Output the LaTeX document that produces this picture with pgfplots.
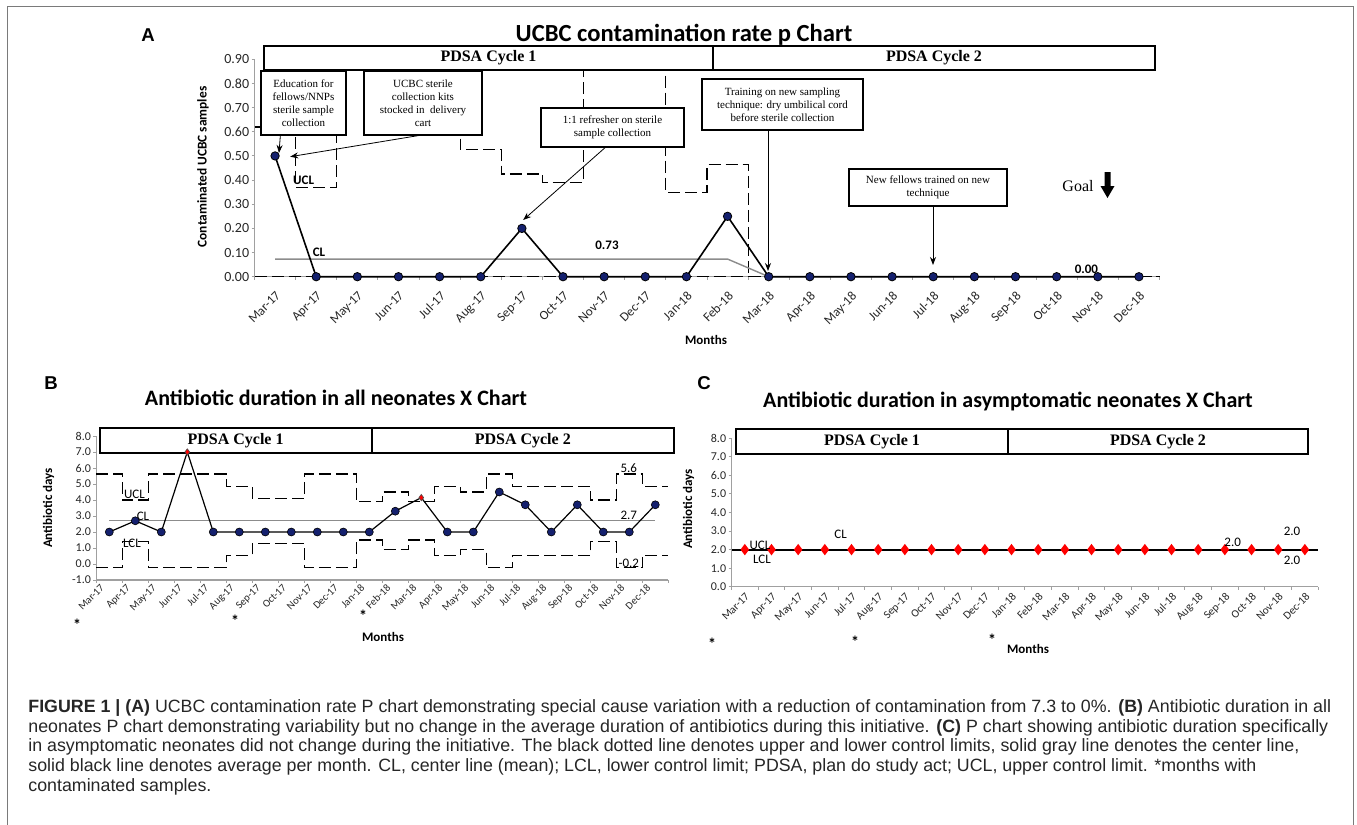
\documentclass[border=0pt]{standalone}
\usepackage{pgfplots}
\pgfplotsset{compat=1.18}
\usepackage{pgfplotstable}
\usepackage{fontspec}
\setmainfont{Carlito}
\newfontfamily\tms{Liberation Serif}
\newfontfamily\arl{Liberation Sans}
\usetikzlibrary{arrows.meta}
\newcommand\fs[2]{\fontsize{#1pt}{#2pt}\selectfont}
\definecolor{navy}{HTML}{14206E}
\definecolor{clgray}{HTML}{8C8C8C}
\definecolor{axgray}{HTML}{A0A0A0}
\definecolor{framegray}{HTML}{7A7A7A}

% Panel A: contamination rate per month
\pgfplotstableread{
x y
0 0.50
1 0
2 0
3 0
4 0
5 0
6 0.20
7 0
8 0
9 0
10 0
11 0.25
12 0
13 0
14 0
15 0
16 0
17 0
18 0
19 0
20 0
21 0
}\dataA
% Panel A: UCL steps (x = left edge of each month)
\pgfplotstableread{
x u
-0.5 0.62
0.5 0.37
1.5 0.87
2.5 0.87
3.5 0.87
4.5 0.526
5.5 0.425
6.5 0.391
7.5 0.87
8.5 0.87
9.5 0.35
10.5 0.465
11.5 0
12.5 0
13.5 0
14.5 0
15.5 0
16.5 0
17.5 0
18.5 0
19.5 0
20.5 0
21.5 0
}\uclA
\pgfplotstableread{
x c
0 0.073
11 0.073
12 0
21 0
}\clA
% Panel B
\pgfplotstableread{
x y
0 2.0
1 2.7
2 2.0
3 7.0
4 2.0
5 2.0
6 2.0
7 2.0
8 2.0
9 2.0
10 2.0
11 3.3
12 4.15
13 2.0
14 2.0
15 4.5
16 3.7
17 2.0
18 3.7
19 2.0
20 2.0
21 3.7
}\dataB
\pgfplotstableread{
x y
0 2.0
1 2.7
2 2.0
4 2.0
5 2.0
6 2.0
7 2.0
8 2.0
9 2.0
10 2.0
11 3.3
13 2.0
14 2.0
15 4.5
16 3.7
17 2.0
18 3.7
19 2.0
20 2.0
21 3.7
}\dataBblue
\pgfplotstableread{
x y
3 7.0
12 4.15
}\dataBred
\pgfplotstableread{
x u l
-0.5 5.62 -0.22
0.5 4.0 1.4
1.5 5.62 -0.22
2.5 5.62 -0.22
3.5 5.62 -0.22
4.5 4.85 0.55
5.5 4.1 1.3
6.5 4.1 1.3
7.5 5.62 -0.22
8.5 5.62 -0.22
9.5 3.9 1.5
10.5 4.5 0.9
11.5 3.9 1.5
12.5 4.85 0.55
13.5 4.5 0.9
14.5 5.62 -0.22
15.5 4.85 0.55
16.5 4.85 0.55
17.5 4.85 0.55
18.5 4.0 1.4
19.5 5.62 -0.22
20.5 4.85 0.55
21.5 4.85 0.55
}\limB
% Panel C
\pgfplotstableread{
x y
0 2.0
1 2.0
2 2.0
3 2.0
4 2.0
5 2.0
6 2.0
7 2.0
8 2.0
9 2.0
10 2.0
11 2.0
12 2.0
13 2.0
14 2.0
15 2.0
16 2.0
17 2.0
18 2.0
19 2.0
20 2.0
21 2.0
}\dataC
\pgfplotstableread{
x u
-0.5 2.0
21.5 2.0
}\limC

\pgfplotsset{
  ctrl/.style={
    scale only axis, anchor=south west, clip=false,
    xmin=-0.5, xmax=21.5,
    axis x line*=bottom, axis y line*=left,
    axis line style={draw=axgray, line width=0.6pt},
    xtick={-0.5,0.5,...,21.5}, xticklabels={},
    extra x ticks={0,...,21},
    extra x tick labels={Mar-17,Apr-17,May-17,Jun-17,Jul-17,Aug-17,Sep-17,Oct-17,Nov-17,Dec-17,Jan-18,Feb-18,Mar-18,Apr-18,May-18,Jun-18,Jul-18,Aug-18,Sep-18,Oct-18,Nov-18,Dec-18},
    extra x tick style={major tick length=0pt},
    tick align=outside, major tick length=1.5pt,
    tick style={draw=axgray, line width=0.5pt},
    xticklabel style={rotate=45, anchor=north east, inner sep=0.5pt},
    tick label style={text=black!85},
    /pgf/number format/assume math mode=true,
    yticklabel style={inner sep=1pt},
  },
  lim/.style={black, line width=0.6pt, dash pattern=on 6pt off 2.5pt, const plot mark left},
}

\begin{document}
\begin{tikzpicture}
\path[use as bounding box] (0,0) rectangle (678.5pt,-412.5pt);
\clip (0,0) rectangle (678.5pt,-412.5pt);

\begin{scope}[x=0.5pt,y=-0.5pt]
  \draw[framegray, line width=0.7pt] (7.5,6.5) rectangle (1353.5,840);
  % PDSA boxes B and C (behind data)
  \draw[line width=0.9pt, fill=white] (99.7,427.7) rectangle (674,452.7);
  \draw[line width=0.9pt] (371.6,427.7) -- (371.6,452.7);
  \node[font=\tms\bfseries\fs{8}{9}] at (235.6,440.2) {PDSA Cycle 1};
  \node[font=\tms\bfseries\fs{8}{9}] at (522.8,440.2) {PDSA Cycle 2};
  \draw[line width=0.9pt, fill=white] (736,429) rectangle (1308,454);
  \draw[line width=0.9pt] (1008,429) -- (1008,454);
  \node[font=\tms\bfseries\fs{8}{9}] at (872,441.5) {PDSA Cycle 1};
  \node[font=\tms\bfseries\fs{8}{9}] at (1158,441.5) {PDSA Cycle 2};
\end{scope}

% ---------- Panel A ----------
\begin{axis}[ctrl, at={(127.25pt,-138.35pt)}, width=452.5pt, height=108.7pt,
  ymin=0, ymax=0.9, ytick={0,0.1,0.2,0.3,0.4,0.5,0.6,0.7,0.8,0.9},
  /pgf/number format/fixed, /pgf/number format/fixed zerofill, /pgf/number format/precision=2,
  y tick label style={font=\fs{7}{8}},
  x tick label style={font=\fs{6.5}{7}},
  xticklabel shift=6pt]
  \addplot[lim] table[x=x,y=u]{\uclA};
  \addplot[black, line width=0.6pt, dash pattern=on 6pt off 2.5pt] coordinates {(-0.5,0) (21.5,0)};
  \addplot[clgray, line width=0.7pt] table[x=x,y=c]{\clA};
  \addplot[black, line width=0.8pt, mark=*, mark size=2.1pt, mark options={fill=navy, draw=black, line width=0.4pt, solid}] table[x=x,y=y]{\dataA};
\end{axis}

% ---------- Panel B ----------
\begin{axis}[ctrl, at={(48.15pt,-290pt)}, width=286pt, height=72pt,
  ymin=-1, ymax=8, ytick={-1,0,1,2,3,4,5,6,7,8},
  /pgf/number format/fixed, /pgf/number format/fixed zerofill, /pgf/number format/precision=1,
  y tick label style={font=\fs{6}{7}},
  x tick label style={font=\fs{5.3}{6}},
  xticklabel style={xshift=-3.3pt, yshift=3.3pt},
  xticklabel shift=0.8pt]
  \addplot[lim] table[x=x,y=u]{\limB};
  \addplot[lim] table[x=x,y=l]{\limB};
  \addplot[clgray, line width=0.6pt] coordinates {(0,2.7) (21,2.7)};
  \addplot[black, line width=0.6pt] table[x=x,y=y]{\dataB};
  \addplot[only marks, mark=*, mark size=2pt, mark options={fill=navy, draw=black, line width=0.3pt}] table[x=x,y=y]{\dataBblue};
  \addplot[only marks, mark=diamond*, mark size=1.6pt, mark options={fill=red, draw=black!70, line width=0.3pt}] table[x=x,y=y]{\dataBred};
\end{axis}

% ---------- Panel C ----------
\begin{axis}[ctrl, at={(365.75pt,-293.35pt)}, width=293.35pt, height=74.2pt,
  ymin=0, ymax=8, ytick={0,1,2,3,4,5,6,7,8},
  /pgf/number format/fixed, /pgf/number format/fixed zerofill, /pgf/number format/precision=1,
  y tick label style={font=\fs{6}{7}},
  x tick label style={font=\fs{5.6}{6}},
  xticklabel shift=1.8pt]
  \addplot[black, line width=1pt, const plot mark left] table[x=x,y=u]{\limC};
  \addplot[black, line width=0.8pt, mark=diamond*, mark size=2.2pt, mark options={fill=red, draw=red}] table[x=x,y=y]{\dataC};
\end{axis}

\begin{scope}[x=0.5pt,y=-0.5pt]
  % titles and panel letters
  \node[font=\arl\bfseries\fs{9.3}{10}] at (148,35) {A};
  \node[font=\bfseries\fs{12.3}{13}] at (684,35) {UCBC contamination rate p Chart};
  \node[font=\arl\bfseries\fs{9.3}{10}] at (51,383) {B};
  \node[font=\bfseries\fs{11}{12}] at (336,398) {Antibiotic duration in all neonates X Chart};
  \node[font=\arl\bfseries\fs{9.3}{10}] at (704,383) {C};
  \node[font=\bfseries\fs{11}{12}] at (1008,401.7) {Antibiotic duration in asymptomatic neonates X Chart};
  % axis titles
  \node[font=\bfseries\fs{6.7}{7}, rotate=90] at (203,167) {Contaminated UCBC samples};
  \node[font=\bfseries\fs{6.5}{7}, rotate=90] at (48.6,508) {Antibiotic days};
  \node[font=\bfseries\fs{6.5}{7}, rotate=90] at (688.6,509) {Antibiotic days};
  \node[font=\bfseries\fs{6.5}{7}] at (706,340) {Months};
  \node[font=\bfseries\fs{6.5}{7}] at (383,637) {Months};
  \node[font=\bfseries\fs{6.5}{7}] at (1028,649) {Months};
  % asterisks
  \foreach \ax/\ay in {77/625,235/621,363/616,712/644,855/642,992/640}
    \node[font=\bfseries\fs{8}{9}] at (\ax,\ay) {*};
  % PDSA box A
  \draw[line width=0.9pt, fill=white] (264,45.7) rectangle (1155,70.3);
  \draw[line width=0.9pt] (713,45.7) -- (713,70.3);
  \node[font=\tms\bfseries\fs{8}{9}] at (488.5,58) {PDSA Cycle 1};
  \node[font=\tms\bfseries\fs{8}{9}] at (934,58) {PDSA Cycle 2};
  % annotation boxes A
  \draw[line width=0.8pt, fill=white] (261,71) rectangle (346,135);
  \node[font=\tms\fs{5.5}{6.55}, align=center] at (303.5,103) {Education for\\fellows/NNPs\\sterile sample\\collection};
  \draw[line width=0.8pt, fill=white] (364,71) rectangle (482,135);
  \node[font=\tms\fs{5.5}{6.55}, align=center] at (423,103) {UCBC sterile\\collection kits\\stocked in~ delivery\\cart};
  \draw[line width=0.8pt, fill=white] (541,108) rectangle (684,147);
  \node[font=\tms\fs{5.5}{6.55}, align=center] at (612.5,127.5) {1:1 refresher on sterile\\sample collection};
  \draw[line width=0.8pt, fill=white] (702,79) rectangle (863,130);
  \node[font=\tms\fs{5.5}{6.6}, align=center] at (782.5,104.5) {Training on new sampling\\technique: dry umbilical cord\\before sterile collection};
  \draw[line width=0.8pt, fill=white] (849,169) rectangle (1007,206);
  \node[font=\tms\fs{5.5}{6.55}, align=center] at (928,187.5) {New fellows trained on new\\technique};
  % arrows
  \draw[line width=0.4pt, -{Stealth[length=4pt,width=3pt]}] (280.4,135) -- (279,153);
  \draw[line width=0.4pt, -{Stealth[length=4pt,width=3pt]}] (421.9,135) -- (290.2,156.7);
  \draw[line width=0.4pt, -{Stealth[length=4pt,width=3pt]}] (605.8,147) -- (523.2,220);
  \draw[line width=0.4pt, -{Stealth[length=4pt,width=3pt]}] (768,130) -- (768,271);
  \draw[line width=0.4pt, -{Stealth[length=4pt,width=3pt]}] (933,206) -- (933,265);
  % goal
  \node[font=\tms\fs{8}{9}] at (1078,186) {Goal};
  \fill (1104.5,172) -- (1110.5,172) -- (1110.5,186) -- (1114.5,186) -- (1107.5,198) -- (1100.5,186) -- (1104.5,186) -- cycle;
  % A labels
  \node[font=\bfseries\fs{6.5}{7}] at (303.6,180) {UCL};
  \node[font=\bfseries\fs{6.5}{7}] at (319,252.3) {CL};
  \node[font=\bfseries\fs{6.5}{7}] at (607,245.7) {0.73};
  \node[font=\bfseries\fs{6.5}{7}] at (1086.4,269.3) {0.00};
  % B labels
  \node[font=\fs{6.5}{7}] at (134.4,494.3) {UCL};
  \node[font=\fs{6.5}{7}] at (143,516.7) {CL};
  \node[font=\fs{6.5}{7}] at (132,543) {LCL};
  \node[font=\fs{6.5}{7}] at (628.8,467.7) {5.6};
  \node[font=\fs{6.5}{7}] at (628.8,515.7) {2.7};
  \node[font=\fs{6.5}{7}] at (628.8,563) {-0.2};
  % C labels
  \node[font=\fs{6.5}{7}] at (760,545) {UCL};
  \node[font=\fs{6.5}{7}] at (762,559) {LCL};
  \node[font=\fs{6.5}{7}] at (840.6,534) {CL};
  \node[font=\fs{6.5}{7}] at (1232.7,542.7) {2.0};
  \node[font=\fs{6.5}{7}] at (1292,531.7) {2.0};
  \node[font=\fs{6.5}{7}] at (1292,560) {2.0};
  % caption
  \begin{scope}[every node/.style={anchor=base west, inner sep=0pt, font=\arl\fs{8.9}{10}, text=black!85}]
  \node at (28,712.4) {\textbf{FIGURE 1 | (A)} UCBC contamination rate P chart demonstrating special cause variation with a reduction of contamination from 7.3 to 0\%. \textbf{(B)} Antibiotic duration in all};
  \node at (28,732.1) {neonates P chart demonstrating variability but no change in the average duration of antibiotics during this initiative. \textbf{(C)} P chart showing antibiotic duration specifically};
  \node at (28,751.8) {in asymptomatic neonates did not change during the initiative. The black dotted line denotes upper and lower control limits, solid gray line denotes the center line,};
  \node at (28,771.5) {solid black line denotes average per month. CL, center line (mean); LCL, lower control limit; PDSA, plan do study act; UCL, upper control limit. *months with};
  \node at (28,791.2) {contaminated samples.};
  \end{scope}
\end{scope}
\end{tikzpicture}
\end{document}
